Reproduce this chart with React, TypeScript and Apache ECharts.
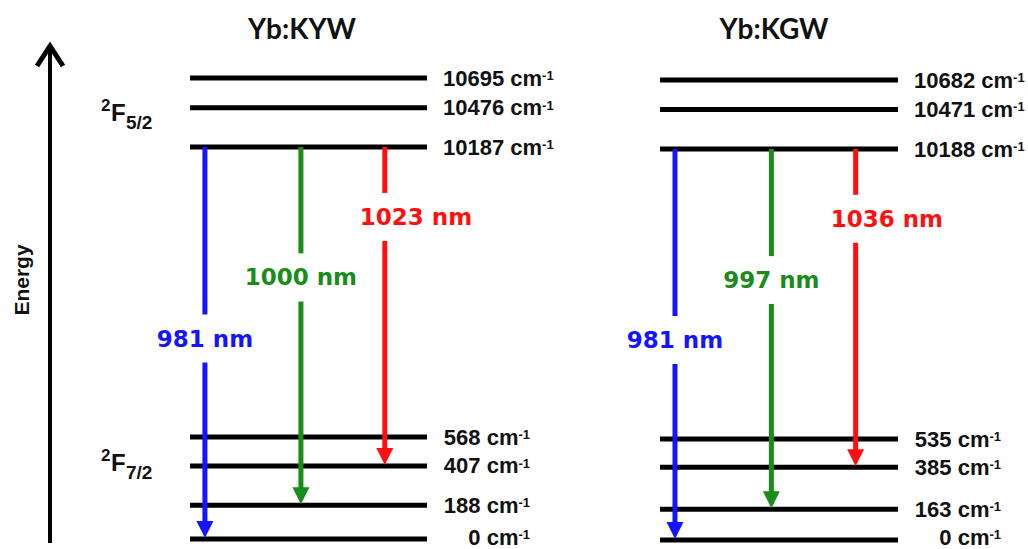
import React, { useEffect, useRef } from 'react';
import * as echarts from 'echarts';

// ---- data ----
const panelTitles = ['Yb:KYW', 'Yb:KGW'];
const kywUpper = [10187, 10476, 10695];
const kywLower = [0, 188, 407, 568];
const kgwUpper = [10188, 10471, 10682];
const kgwLower = [0, 163, 385, 535];
const kywEmissionNm = [981, 1000, 1023];
const kywEmissionEnd = [0, 188, 407];
const kgwEmissionNm = [981, 997, 1036];
const kgwEmissionEnd = [0, 163, 385];
const emissionStart = [10187, 10188];
const termUpper = ['2', 'F', '5/2'];
const termLower = ['2', 'F', '7/2'];

// ---- layout / style ----
const PANEL_X = [
  { left: 190, width: 237 },
  { left: 660, width: 238 },
];
const UPPER_Y = [
  { top: 78, height: 69 },
  { top: 80, height: 69 },
];
const LOWER_Y = [
  { top: 437, height: 102 },
  { top: 439, height: 101 },
];
const TITLE_X = [302, 774];
const ARROW_X = [0.063, 0.468, 0.822];
const ARROW_COLORS = ['#1414ff', '#1a8c1a', '#ff1010'];
const LABEL_FRAC = [0.49, 0.365, 0.22];
const LEVEL_FONT = '"Liberation Sans", Arial, sans-serif';
const CHART_H = 549;

const panels = [
  { upper: kywUpper, lower: kywLower, nm: kywEmissionNm, ends: kywEmissionEnd, start: emissionStart[0] },
  { upper: kgwUpper, lower: kgwLower, nm: kgwEmissionNm, ends: kgwEmissionEnd, start: emissionStart[1] },
];

const RICH_LEVEL = {
  v: { fontSize: 22, fontWeight: 'bold', fontFamily: LEVEL_FONT, fill: '#111', lineHeight: 18 },
  s: { fontSize: 13, fontWeight: 'bold', fontFamily: LEVEL_FONT, fill: '#111', verticalAlign: 'top', lineHeight: 7 },
};

function levelSeries(gridIdx: number, levels: number[], lower: boolean) {
  return {
    type: 'custom',
    coordinateSystem: 'cartesian2d',
    xAxisIndex: gridIdx,
    yAxisIndex: gridIdx,
    data: levels.map((e) => [0, e]),
    encode: { x: 0, y: 1 },
    clip: false,
    silent: true,
    renderItem: (_params: any, api: any) => {
      const e = api.value(1);
      const a = api.coord([0, e]);
      const b = api.coord([1, e]);
      return {
        type: 'group',
        children: [
          {
            type: 'line',
            shape: { x1: a[0], y1: a[1], x2: b[0], y2: b[1] },
            style: { stroke: '#000', lineWidth: 5 },
          },
          {
            type: 'text',
            x: lower ? b[0] + 103 : b[0] + 16,
            y: Math.min(b[1], CHART_H - 12),
            style: {
              text: `{v|${e} cm}{s|-1}`,
              rich: RICH_LEVEL,
              align: lower ? 'right' : 'left',
              verticalAlign: 'middle',
            },
          },
        ],
      };
    },
  };
}

function termLabel(parts: string[], x: number, yF: number, id: string) {
  const font = (s: number) => `bold ${s}px ${LEVEL_FONT}`;
  const st = (text: string, size: number) => ({
    text, font: font(size), fill: '#111',
    textAlign: 'left', textVerticalAlign: 'middle', align: 'left', verticalAlign: 'middle',
  });
  return {
    type: 'group',
    id,
    children: [
      { type: 'text', x: x, y: yF - 7, style: st(parts[0], 17) },
      { type: 'text', x: x + 10, y: yF, style: st(parts[1], 24) },
      { type: 'text', x: x + 25, y: yF + 10, style: st(parts[2], 19) },
    ],
  };
}

export default function App() {
  const ref = useRef<HTMLDivElement>(null);

  useEffect(() => {
    if (!ref.current) return;
    const chart = echarts.init(ref.current, undefined, { renderer: 'svg' });

    const grids: any[] = [];
    const xAxes: any[] = [];
    const yAxes: any[] = [];
    const series: any[] = [];
    panels.forEach((pd, p) => {
      [
        { y: UPPER_Y[p], levels: pd.upper, lower: false },
        { y: LOWER_Y[p], levels: pd.lower, lower: true },
      ].forEach((g) => {
        const gi = grids.length;
        grids.push({ left: PANEL_X[p].left, width: PANEL_X[p].width, top: g.y.top, height: g.y.height, show: false });
        xAxes.push({ type: 'value', gridIndex: gi, min: 0, max: 1, show: false });
        yAxes.push({ type: 'value', gridIndex: gi, min: Math.min(...g.levels), max: Math.max(...g.levels), show: false });
        series.push(levelSeries(gi, g.levels, g.lower));
      });
    });

    chart.setOption({
      animation: false,
      backgroundColor: '#fff',
      grid: grids,
      xAxis: xAxes,
      yAxis: yAxes,
      series,
    });

    const graphics: any[] = [];
    // titles
    panelTitles.forEach((t, p) => {
      graphics.push({
        type: 'text', id: 'title' + p, x: TITLE_X[p], y: 28,
        style: { text: t, font: 'bold 28px Lato, "Open Sans", sans-serif', fill: '#111', textAlign: 'center', textVerticalAlign: 'middle', align: 'center', verticalAlign: 'middle' },
      });
    });
    // energy axis
    graphics.push({ type: 'line', id: 'eShaft', shape: { x1: 50, y1: 543, x2: 50, y2: 46 }, style: { stroke: '#000', lineWidth: 4 } });
    graphics.push({ type: 'polyline', id: 'eHead', shape: { points: [[37, 66], [50, 46], [63, 66]] }, style: { stroke: '#000', lineWidth: 5, fill: null, lineJoin: 'miter' } });
    graphics.push({
      type: 'text', id: 'eText', x: 21, y: 280, rotation: Math.PI / 2,
      style: { text: 'Energy', font: `bold 21px ${LEVEL_FONT}`, fill: '#111', textAlign: 'center', textVerticalAlign: 'middle', align: 'center', verticalAlign: 'middle' },
    });
    graphics.push(termLabel(termUpper, 101, 112, 'termU'));
    graphics.push(termLabel(termLower, 101, 462, 'termL'));

    // emission arrows (positions through the grids' scales)
    panels.forEach((pd, p) => {
      pd.nm.forEach((nm, i) => {
        const xf = ARROW_X[i];
        const s = chart.convertToPixel({ gridIndex: p * 2 } as any, [xf, pd.start]) as number[];
        const t = chart.convertToPixel({ gridIndex: p * 2 + 1 } as any, [xf, pd.ends[i]]) as number[];
        const x = s[0];
        const y0 = s[1];
        const yTip = t[1] - 1;
        const ly = y0 + LABEL_FRAC[i] * (yTip - y0);
        const color = ARROW_COLORS[i];
        const id = `a${p}${i}`;
        graphics.push({ type: 'line', id: id + 's1', z: 100, shape: { x1: x, y1: y0, x2: x, y2: ly - 24 }, style: { stroke: color, lineWidth: 5 } });
        graphics.push({ type: 'line', id: id + 's2', z: 100, shape: { x1: x, y1: ly + 24, x2: x, y2: yTip - 14 }, style: { stroke: color, lineWidth: 5 } });
        graphics.push({ type: 'polygon', id: id + 'h', z: 100, shape: { points: [[x - 8.5, yTip - 17], [x + 8.5, yTip - 17], [x, yTip]] }, style: { fill: color } });
        const right = i === 2;
        graphics.push({
          type: 'text', id: id + 't', z: 100, x: right ? x - 25 : x, y: ly,
          style: {
            text: `${nm} nm`, font: 'bold 23px "DejaVu Sans", Verdana, sans-serif', fill: color,
            textAlign: right ? 'left' : 'center', textVerticalAlign: 'middle',
            align: right ? 'left' : 'center', verticalAlign: 'middle',
          },
        });
      });
    });

    chart.setOption({ graphic: { elements: graphics } });

    return () => chart.dispose();
  }, []);

  return (
    <div
      ref={ref}
      style={{ position: 'fixed', left: 0, top: 0, width: 1028, height: 549, background: '#fff' }}
    />
  );
}
